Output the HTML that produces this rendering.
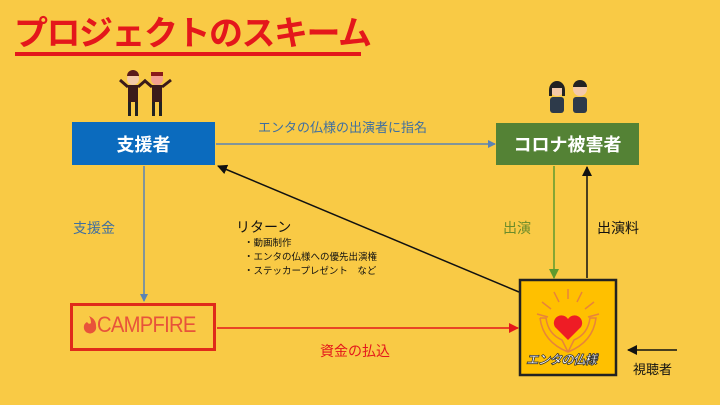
<!DOCTYPE html>
<html><head><meta charset="utf-8"><style>
body{margin:0;width:720px;height:405px;overflow:hidden;background:#F9CA45;position:relative;font-family:"Liberation Sans","Noto Sans CJK JP",sans-serif}
.t{position:absolute;white-space:nowrap}
.box{position:absolute;display:flex;align-items:center;justify-content:center;color:#fff;font-weight:bold;font-size:18px}
</style></head><body>
<div class="t" style="left:14px;top:14px;font-size:34px;font-weight:bold;color:#E4171B;letter-spacing:-1.5px;line-height:40px">プロジェクトのスキーム</div>
<div style="position:absolute;left:15px;top:52px;width:346px;height:3.5px;background:#E4171B"></div>

<svg width="720" height="405" style="position:absolute;left:0;top:0">
<defs>
<marker id="ab" markerWidth="8" markerHeight="8" refX="7" refY="4" orient="auto" markerUnits="userSpaceOnUse"><path d="M0,0L8,4L0,8z" fill="#5B83B5"/></marker>
<marker id="ak" markerWidth="10" markerHeight="10" refX="9" refY="5" orient="auto" markerUnits="userSpaceOnUse"><path d="M0,0L10,5L0,10z" fill="#111"/></marker>
<marker id="ag" markerWidth="10" markerHeight="10" refX="9" refY="5" orient="auto" markerUnits="userSpaceOnUse"><path d="M0,0L10,5L0,10z" fill="#5E9A2E"/></marker>
<marker id="ar" markerWidth="10" markerHeight="10" refX="9" refY="5" orient="auto" markerUnits="userSpaceOnUse"><path d="M0,0L10,5L0,10z" fill="#E4171B"/></marker>
</defs>
<line x1="216" y1="144" x2="495" y2="144" stroke="#5B83B5" stroke-width="1.5" marker-end="url(#ab)"/>
<line x1="144" y1="166" x2="144" y2="301" stroke="#5B83B5" stroke-width="1.5" marker-end="url(#ab)"/>
<line x1="217" y1="328" x2="518" y2="328" stroke="#E4171B" stroke-width="1.5" marker-end="url(#ar)"/>
<line x1="554" y1="166" x2="554" y2="278" stroke="#5E9A2E" stroke-width="1.5" marker-end="url(#ag)"/>
<line x1="587" y1="278" x2="587" y2="167" stroke="#111" stroke-width="1.5" marker-end="url(#ak)"/>
<line x1="519" y1="292" x2="218" y2="166" stroke="#111" stroke-width="1.5" marker-end="url(#ak)"/>
<line x1="677" y1="350" x2="628" y2="350" stroke="#111" stroke-width="1.5" marker-end="url(#ak)"/>
<g>
<circle cx="133" cy="79" r="6" fill="#f3c9a8"/><path d="M127,76a6,6 0 0 1 12,0z" fill="#5a1a1a"/>
<rect x="128" y="85" width="10" height="17" fill="#3a1a1a"/><line x1="128" y1="87" x2="120" y2="80" stroke="#3a1a1a" stroke-width="3"/><line x1="138" y1="87" x2="146" y2="80" stroke="#3a1a1a" stroke-width="3"/>
<rect x="128" y="102" width="3" height="14" fill="#222"/><rect x="135" y="102" width="3" height="14" fill="#222"/>
<circle cx="157" cy="79" r="6" fill="#f3a090"/><rect x="151" y="72" width="12" height="4" fill="#8a1a1a"/>
<rect x="152" y="85" width="10" height="17" fill="#3a1a1a"/><line x1="152" y1="87" x2="144" y2="80" stroke="#3a1a1a" stroke-width="3"/><line x1="162" y1="87" x2="171" y2="80" stroke="#3a1a1a" stroke-width="3"/>
<rect x="152" y="102" width="3" height="14" fill="#222"/><rect x="159" y="102" width="3" height="14" fill="#222"/>
</g>
<g>
<circle cx="557" cy="89" r="7" fill="#f3c9a8"/><path d="M549,90a8,9 0 0 1 16,0l0,6l-3,0l0,-8l-10,0l0,8l-3,0z" fill="#222"/>
<rect x="550" y="97" width="14" height="16" rx="3" fill="#2d3a4a"/>
<circle cx="580" cy="89" r="7" fill="#f3c9a8"/><path d="M573,87a7,7 0 0 1 14,0z" fill="#222"/>
<rect x="573" y="97" width="14" height="16" rx="3" fill="#2d3a4a"/>
</g>
<rect x="520" y="280" width="96" height="95" fill="#FFC000" stroke="#222" stroke-width="2.5"/>
<g stroke="#E8843A" stroke-width="1.5" fill="none">
<line x1="568" y1="289" x2="568" y2="299"/><line x1="554" y1="292" x2="559" y2="302"/><line x1="582" y1="292" x2="577" y2="302"/>
<line x1="542" y1="302" x2="551" y2="309"/><line x1="594" y1="302" x2="585" y2="309"/>
<line x1="537" y1="314" x2="548" y2="317"/><line x1="599" y1="314" x2="588" y2="317"/>
<path d="M540,318q3,24 28,34q25,-10 28,-34l-6,0q-2,16 -16,22l-6,12m-28,-34l6,0q2,16 16,22l6,12"/>
</g>
<path d="M568,340l-13,-13a7.5,7.5 0 0 1 13,-8a7.5,7.5 0 0 1 13,8z" fill="#EE1C25"/>
<path d="M88,333a6,6 0 0 1 -1,-11q2,3 4,1q0,-4 -2,-7q7,3 7,10a6,6 0 0 1 -8,7z" fill="#E8533A"/>
</svg>

<div class="box" style="left:72px;top:122px;width:143px;height:43px;background:#0B6BBE">支援者</div>
<div class="box" style="left:496px;top:123px;width:143px;height:42px;background:#548235">コロナ被害者</div>
<div style="position:absolute;left:70px;top:303px;width:140px;height:42px;border:3px solid #E02A1A"></div>
<div class="t" style="left:97px;top:313px;font-size:22px;line-height:24px;color:#E8533A;letter-spacing:-0.8px;transform:scaleX(0.92);transform-origin:left">CAMPFIRE</div>
<div class="t" style="left:526px;top:349px;font-size:12.5px;font-weight:bold;font-style:italic;color:#fff;-webkit-text-stroke:0.8px #333;letter-spacing:-0.8px">エンタの仏様</div>

<div class="t" style="left:258px;top:117px;font-size:13px;color:#3F6FA0">エンタの仏様の出演者に指名</div>
<div class="t" style="left:73px;top:218px;font-size:14px;color:#3F6FA0">支援金</div>
<div class="t" style="left:236px;top:217px;font-size:14px;color:#111">リターン</div>
<div class="t" style="left:244px;top:237px;font-size:9.5px;color:#111;line-height:14px">・動画制作<br>・エンタの仏様への優先出演権<br>・ステッカープレゼント　など</div>
<div class="t" style="left:320px;top:341px;font-size:14px;color:#E4171B">資金の払込</div>
<div class="t" style="left:503px;top:218px;font-size:14px;color:#6A8B2A">出演</div>
<div class="t" style="left:597px;top:218px;font-size:14px;color:#111">出演料</div>
<div class="t" style="left:633px;top:359px;font-size:13px;color:#111">視聴者</div>
</body></html>
